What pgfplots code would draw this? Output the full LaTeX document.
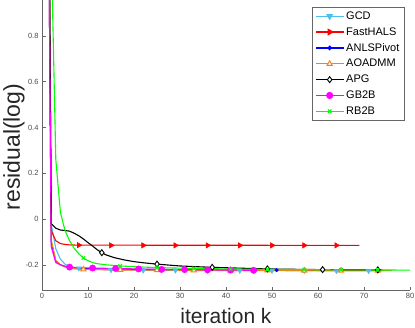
\documentclass[border=0pt]{standalone}
\usepackage{fontspec}
\setmainfont{Liberation Sans}
\usepackage{pgfplots}
\pgfplotsset{compat=1.18}
\definecolor{gcdc}{RGB}{77,190,238}
\definecolor{halsc}{RGB}{255,0,0}
\definecolor{anlsc}{RGB}{0,0,255}
\definecolor{admmc}{RGB}{250,130,20}
\definecolor{apgc}{RGB}{0,0,0}
\definecolor{gbc}{RGB}{255,0,255}
\definecolor{rbc}{RGB}{0,255,0}

\begin{document}
\begin{tikzpicture}
\begin{axis}[
    scale only axis, width=368pt, height=290pt,
    xmin=0, xmax=80, ymin=-0.31, ymax=0.957,
    xtick={0,10,...,80},
    ytick={-0.2,0,0.2,0.4,0.6,0.8},
    axis x line*=bottom, axis y line*=left,
    axis line style={-, black!60, line width=0.6pt},
    tick align=inside,
    major tick length=3.5pt,
    tick style={black!60, line width=0.5pt},
    tick label style={font=\fontsize{7.5}{8}\selectfont, text=black!70},
    /pgf/number format/assume math mode=true,
    xlabel={iteration k},
    xlabel style={at={(axis description cs:0.5,-0.1155)}, anchor=base,
                  font=\fontsize{21}{22}\selectfont, text=black!85},
    ylabel={residual(log)},
    ylabel style={at={(axis description cs:-0.06,0.493)}, anchor=base,
                  font=\fontsize{23}{24}\selectfont, text=black!85},
    legend image code/.code={
      \draw[mark repeat=2,mark phase=2] plot coordinates {(0pt,0pt)(14pt,0pt)(28pt,0pt)};},
    legend style={at={(axis description cs:0.984,0.976)}, anchor=north east,
                  font=\fontsize{11}{13}\selectfont, draw=black!60,
                  inner sep=2.5pt, row sep=2.6pt},
    legend cell align=left,
  ]

  % GCD
  \addplot[gcdc, line width=1.1pt, forget plot] coordinates {
    (1,3.0)(2,-0.02)(3,-0.13)(4,-0.175)(5,-0.197)(6,-0.207)(7,-0.212)(8,-0.215)
    (10,-0.218)(13,-0.221)(18,-0.223)(25,-0.224)(40,-0.225)(60,-0.226)(74,-0.226)};
  \addplot[gcdc, only marks, mark=triangle*, mark size=3pt,
           mark options={rotate=180, fill=gcdc}, forget plot] coordinates {
    (8,-0.215)(15,-0.222)(22,-0.224)(29,-0.224)(36,-0.225)(43,-0.225)
    (50,-0.225)(57,-0.226)(64,-0.226)(71,-0.226)};

  % FastHALS
  \addplot[halsc, line width=1.1pt, forget plot] coordinates {
    (1,3.0)(2,-0.05)(3,-0.095)(4,-0.107)(5,-0.111)(6,-0.113)(8,-0.114)(69,-0.115)};
  \addplot[halsc, only marks, mark=triangle*, mark size=3.2pt,
           mark options={rotate=-90, fill=halsc}, forget plot] coordinates {
    (8,-0.114)(15,-0.115)(22,-0.115)(29,-0.115)(36,-0.115)(43,-0.115)
    (50,-0.115)(57,-0.115)(64,-0.115)};

  % ANLSPivot
  \addplot[anlsc, line width=1.1pt, forget plot] coordinates {
    (1,2.5)(2,-0.1)(3,-0.185)(4,-0.2)(5,-0.207)(6,-0.211)(8,-0.215)
    (12,-0.218)(20,-0.22)(35,-0.222)(54,-0.223)};
  \addplot[anlsc, only marks, mark=*, mark size=1.8pt,
           mark options={fill=anlsc}, forget plot] coordinates {
    (11,-0.218)(21,-0.22)(31,-0.221)(41,-0.222)(51,-0.223)};

  % AOADMM
  \addplot[admmc, line width=1.1pt, forget plot] coordinates {
    (1,2.5)(2,-0.09)(3,-0.18)(4,-0.2)(5,-0.21)(6,-0.215)(8,-0.219)
    (12,-0.221)(20,-0.223)(40,-0.224)(76,-0.225)};
  \addplot[admmc, only marks, mark=triangle*, mark size=3pt,
           mark options={fill=white, line width=1pt}, forget plot] coordinates {
    (9,-0.22)(17,-0.222)(25,-0.223)(33,-0.224)(41,-0.224)(49,-0.224)
    (57,-0.225)(65,-0.225)(73,-0.225)};

  % APG
  \addplot[apgc, line width=1.1pt, forget plot] coordinates {
    (1,3.0)(2,-0.02)(3,-0.04)(4,-0.048)(5,-0.05)(6,-0.053)(7,-0.062)(8,-0.073)
    (9,-0.087)(10,-0.103)(11,-0.118)(12,-0.134)(13,-0.147)(14,-0.157)(15,-0.164)
    (16,-0.17)(18,-0.179)(20,-0.186)(22,-0.191)(25,-0.197)(30,-0.205)(37,-0.211)
    (49,-0.218)(61,-0.221)(74,-0.222)};
  \addplot[apgc, only marks, mark=diamond*, mark size=3pt,
           mark options={fill=white, line width=0.9pt}, forget plot] coordinates {
    (13,-0.147)(25,-0.197)(37,-0.211)(49,-0.218)(61,-0.221)(73,-0.222)};

  % GB2B
  \addplot[gbc, line width=1.1pt, forget plot] coordinates {
    (1,2.57)(2,-0.12)(3,-0.19)(4,-0.2)(5,-0.206)(6,-0.21)(8,-0.213)(11,-0.214)
    (16,-0.216)(21,-0.218)(26,-0.22)(31,-0.221)(36,-0.222)(41,-0.223)(47,-0.224)};
  \addplot[gbc, only marks, mark=*, mark size=3.2pt,
           mark options={fill=gbc}, forget plot] coordinates {
    (6,-0.21)(11,-0.214)(16,-0.216)(21,-0.218)(26,-0.22)(31,-0.221)
    (36,-0.222)(41,-0.223)(46,-0.224)};

  % RB2B
  \addplot[rbc, line width=1.1pt, forget plot] coordinates {
    (1,5.0)(2,1.2)(3,0.26)(4,0.03)(5,-0.05)(6,-0.095)(7,-0.128)(8,-0.152)
    (9,-0.17)(10,-0.182)(11,-0.19)(12,-0.195)(14,-0.2)(17,-0.205)(21,-0.209)
    (25,-0.212)(33,-0.216)(41,-0.218)(49,-0.22)(65,-0.222)(80,-0.223)};
  \addplot[rbc, only marks, mark=x, mark size=2.5pt,
           mark options={line width=1pt}, forget plot] coordinates {
    (9,-0.17)(17,-0.205)(25,-0.212)(33,-0.216)(41,-0.218)(49,-0.22)
    (57,-0.221)(65,-0.222)(73,-0.222)};

  % legend
  \addlegendimage{gcdc, line width=1.1pt, mark=triangle*, mark size=3pt,
                  mark options={rotate=180, fill=gcdc}}
  \addlegendentry{GCD}
  \addlegendimage{halsc, line width=1.1pt, mark=triangle*, mark size=3.2pt,
                  mark options={rotate=-90, fill=halsc}}
  \addlegendentry{FastHALS}
  \addlegendimage{anlsc, line width=1.1pt, mark=*, mark size=1.8pt,
                  mark options={fill=anlsc}}
  \addlegendentry{ANLSPivot}
  \addlegendimage{admmc, line width=1.1pt, mark=triangle*, mark size=3pt,
                  mark options={fill=white, line width=1pt}}
  \addlegendentry{AOADMM}
  \addlegendimage{apgc, line width=1.1pt, mark=diamond*, mark size=3pt,
                  mark options={fill=white, line width=0.9pt}}
  \addlegendentry{APG}
  \addlegendimage{gbc, line width=1.1pt, mark=*, mark size=3pt,
                  mark options={fill=gbc}}
  \addlegendentry{GB2B}
  \addlegendimage{rbc, line width=1.1pt, mark=x, mark size=2.5pt,
                  mark options={line width=1pt}}
  \addlegendentry{RB2B}
\end{axis}
\pgfresetboundingbox
\path[use as bounding box] ([shift={(-42pt,-37pt)}]current axis.south west)
  rectangle ([shift={(5pt,0pt)}]current axis.north east);
\end{tikzpicture}
\end{document}
